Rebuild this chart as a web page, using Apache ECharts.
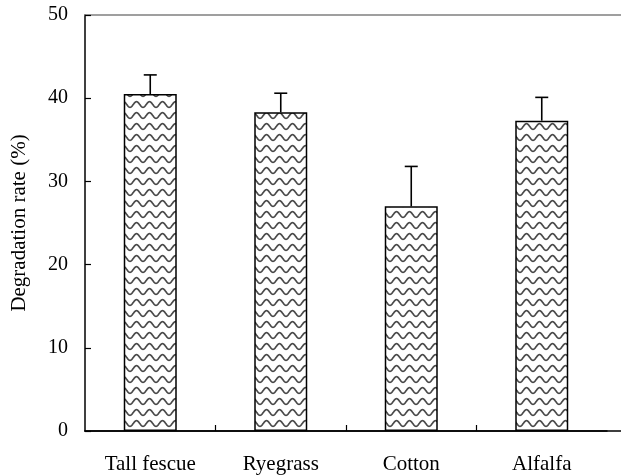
<!DOCTYPE html>
<html>
<head>
<meta charset="utf-8">
<script src="https://cdn.jsdelivr.net/npm/echarts@6/dist/echarts.min.js"></script>
<style>
html,body{margin:0;padding:0;background:#fff;}
#chart{width:621px;height:476px;}
</style>
</head>
<body>
<div id="chart"></div>
<script>
const categories = ['Tall fescue', 'Ryegrass', 'Cotton', 'Alfalfa'];
const degradationRate = [40.5, 38.3, 27.0, 37.3];
const errorValues = [2.3, 2.3, 4.8, 2.8];
const yTicks = [0, 10, 20, 30, 40, 50];

// wavy hatch pattern tile
function makePattern() {
  const w = 13, h = 11;
  const c = document.createElement('canvas');
  c.width = w; c.height = h;
  const ctx = c.getContext('2d');
  ctx.fillStyle = '#ffffff';
  ctx.fillRect(0, 0, w, h);
  ctx.strokeStyle = '#4a4a4a';
  ctx.lineWidth = 1.7;
  ctx.beginPath();
  for (let x = -1; x <= w + 1; x += 0.5) {
    const y = 5.5 + 2.8 * Math.cos(2 * Math.PI * x / w);
    if (x === -1) ctx.moveTo(x, y); else ctx.lineTo(x, y);
  }
  ctx.stroke();
  return c;
}

const serif = '"Liberation Serif", "DejaVu Serif", serif';
const chart = echarts.init(document.getElementById('chart'), null, {renderer: 'canvas'});

const gridBase = {top: 15, bottom: 45, containLabel: false, outerBoundsMode: 'none'};

const option = {
  animation: false,
  backgroundColor: '#ffffff',
  grid: [
    Object.assign({left: 85, right: 14}, gridBase),
    Object.assign({left: 85, right: 0}, gridBase),
    Object.assign({left: 85, right: 14}, gridBase)
  ],
  xAxis: [
    {
      type: 'category', gridIndex: 0, data: categories,
      axisLine: {show: true, lineStyle: {color: '#000', width: 1.5}},
      axisTick: {show: false},
      axisLabel: {color: '#000', fontFamily: serif, fontSize: 21, margin: 23},
      splitLine: {show: false}
    },
    {
      type: 'value', gridIndex: 1, min: 0, max: 1, position: 'bottom',
      axisLine: {show: true, onZero: false, lineStyle: {color: '#000', width: 1.5}},
      axisTick: {show: false}, axisLabel: {show: false}, splitLine: {show: false}
    },
    {
      type: 'value', gridIndex: 1, min: 0, max: 1, position: 'top',
      axisLine: {show: true, onZero: false, lineStyle: {color: '#808080', width: 1.5}},
      axisTick: {show: false}, axisLabel: {show: false}, splitLine: {show: false}
    },
    {
      type: 'value', gridIndex: 2, min: 0, max: categories.length, interval: 1, position: 'bottom',
      axisLine: {show: false},
      axisTick: {show: true, inside: true, length: 6, customValues: [1, 2, 3], lineStyle: {color: '#000', width: 1.2}},
      axisLabel: {show: false}, splitLine: {show: false}
    }
  ],
  yAxis: [
    {
      type: 'value', gridIndex: 0, min: yTicks[0], max: yTicks[yTicks.length - 1], interval: 10,
      name: 'Degradation rate (%)', nameLocation: 'middle', nameGap: 55,
      nameTextStyle: {color: '#000', fontFamily: serif, fontSize: 21},
      axisLine: {show: true, lineStyle: {color: '#000', width: 1.5}},
      axisTick: {show: true, inside: true, length: 6, lineStyle: {color: '#000', width: 1.2}},
      axisLabel: {color: '#000', fontFamily: serif, fontSize: 20, margin: 17},
      splitLine: {show: false}
    },
    {type: 'value', gridIndex: 1, min: 0, max: 1, show: false},
    {type: 'value', gridIndex: 2, min: 0, max: 1, show: false}
  ],
  series: [
    {
      type: 'bar', xAxisIndex: 0, yAxisIndex: 0,
      data: degradationRate,
      barWidth: 53,
      itemStyle: {
        color: {image: makePattern(), repeat: 'repeat'},
        borderColor: '#000', borderWidth: 1.5
      },
      z: 2
    },
    {
      type: 'custom', xAxisIndex: 0, yAxisIndex: 0,
      data: categories.map((c, i) => [i, degradationRate[i], errorValues[i]]),
      encode: {x: 0, y: 1},
      z: 3,
      renderItem: function (params, api) {
        const i = api.value(0);
        const v = api.value(1);
        const e = api.value(2);
        const base = api.coord([i, v]);
        const top = api.coord([i, v + e]);
        const half = 6.5;
        const style = {stroke: '#000', lineWidth: 1.6};
        return {
          type: 'group',
          children: [
            {type: 'line', shape: {x1: base[0], y1: base[1], x2: top[0], y2: top[1]}, style: style},
            {type: 'line', shape: {x1: top[0] - half, y1: top[1], x2: top[0] + half, y2: top[1]}, style: style}
          ]
        };
      }
    }
  ]
};
chart.setOption(option);
</script>
</body>
</html>
